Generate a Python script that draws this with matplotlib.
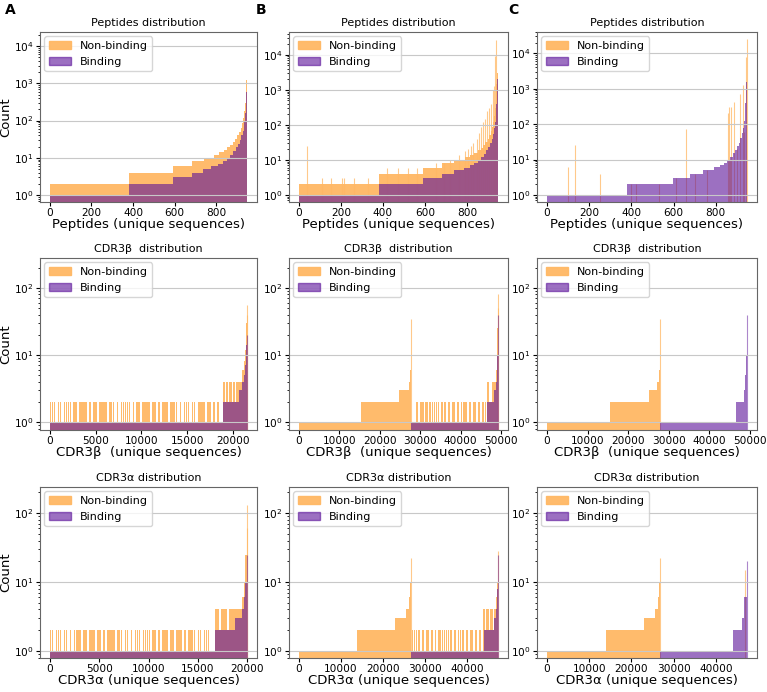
import numpy as np
import matplotlib.pyplot as plt
from matplotlib.patches import Patch
from matplotlib.ticker import MaxNLocator

ORANGE = '#ffb864'
PURPLE = '#5a1199'
A_OR = 0.95
A_PU = 0.6

# ---- data: count per unique sequence, sorted, as runs (start index, count) ----
# Peptides
pep_n = 948
pepA_bind = [(0, 1), (380, 2), (594, 3), (681, 4), (736, 5), (776, 6), (808, 7), (830, 8), (850, 10),
             (868, 12), (882, 15), (895, 19), (905, 24), (913, 30), (920, 40), (926, 52), (931, 70),
             (935, 100), (939, 160), (942, 300), (944, 600), (946, 1100), (947, 1800)]
pepA_non = [(0, 2), (380, 4), (594, 6), (681, 8), (740, 10), (790, 12), (815, 14), (835, 16), (852, 19),
            (866, 22), (878, 26), (890, 32), (900, 40), (910, 50), (918, 65), (925, 85), (930, 120),
            (935, 180), (939, 300), (942, 600), (944, 1200), (946, 2200), (947, 3500)]
pepB_bind = [(0, 1), (380, 2), (590, 3), (680, 4), (740, 5), (785, 6), (815, 7), (835, 8), (852, 10),
             (868, 12), (880, 15), (892, 19), (902, 24), (910, 30), (917, 40), (923, 55), (928, 80),
             (932, 120), (936, 200), (939, 400), (941, 800), (942, 2000)]
pepB_non = [(0, 2), (380, 4), (590, 6), (680, 8), (740, 10), (790, 12), (815, 14), (835, 16), (852, 19),
            (866, 22), (878, 26), (888, 32), (898, 40), (906, 50), (914, 65), (920, 85), (926, 120),
            (931, 180), (935, 300), (938, 700), (940, 1500), (942, 3000)]
pepB_spikes = [(40, 25), (110, 3), (150, 3), (205, 3), (215, 3), (262, 3), (330, 3), (420, 6), (470, 6),
               (520, 6), (560, 6), (650, 8), (690, 8), (720, 10), (760, 14), (790, 18), (805, 20),
               (820, 25), (830, 30), (845, 40), (855, 60), (865, 90), (875, 120), (885, 150), (895, 250),
               (905, 300), (915, 400), (925, 1000), (930, 1300), (935, 9000), (940, 27000)]
pepC_bind = [(0, 1), (380, 2), (595, 3), (680, 4), (740, 5), (790, 6), (820, 7), (840, 8), (855, 10),
             (868, 12), (880, 15), (892, 19), (902, 24), (910, 30), (917, 40), (923, 55), (928, 80),
             (933, 120), (937, 200), (940, 400), (943, 800), (945, 1500), (947, 2000)]
pepC_spikes = [(98, 6), (132, 25), (253, 4), (400, 2), (420, 2), (530, 2), (610, 3), (659, 75),
               (700, 4), (760, 5), (856, 200), (862, 300), (868, 10), (874, 300), (888, 420),
               (900, 20), (916, 720), (928, 1240), (935, 60), (942, 7900), (946, 26000)]

# CDR3 beta
b_nA = 21530
bA_bind = [(0, 1), (18910, 2), (20630, 3), (20990, 4), (21150, 5), (21280, 7), (21380, 10), (21450, 14)]
bA_bind_tip = [(21520, 20)]
bA_non = [(0, 1), (18910, 2), (20630, 4), (20990, 6), (21150, 8), (21280, 12), (21380, 18), (21450, 30)]
bA_non_tip = [(21500, 40), (21525, 55)]
bA_stripes = [(0, 18480, 2, "11101101111011011110101101111011101011111010110111101101011101111010111011011110110101"),
              (18910, 20630, 4, "1101101110110111")]
b_nBC = 49270
bB_bind = [(0, 0), (27795, 1), (46580, 2), (48355, 3), (48660, 4), (48925, 6), (49080, 10)]
bB_bind_tip = [(49260, 40)]
bB_non = [(0, 1), (15250, 2), (24850, 3), (27145, 4), (27530, 6), (27675, 12), (27795, 1),
          (46580, 2), (48355, 4), (48660, 6), (48925, 10), (49080, 25)]
bB_non_tip = [(27775, 35), (49180, 50), (49260, 80)]
bB_stripes = [(28935, 46285, 2, "11011101101110110101111011011101101011101101110110111"),
              (46580, 48255, 4, "110111")]
bC_bind = [(0, 0), (27925, 1), (46650, 2), (48540, 3), (48865, 5), (49080, 10)]
bC_bind_tip = [(49260, 40)]
bC_non = [(0, 1), (15430, 2), (25050, 3), (27185, 4), (27580, 6), (27745, 12), (27925, 0)]
bC_non_tip = [(27895, 35)]

# CDR3 alpha
a_nA = 20000
aA_bind = [(0, 1), (16730, 2), (18730, 3), (19500, 4), (19700, 6), (19820, 10)]
aA_bind_tip = [(19980, 25)]
aA_non = [(0, 1), (16730, 2), (18730, 4), (19500, 6), (19700, 10), (19820, 25)]
aA_non_tip = [(19960, 60), (19990, 130)]
aA_stripes = [(0, 16200, 2, "110111011010111101101110110101111011101101011101111011010111011011101011110110111"),
              (16730, 18800, 4, "1101110111")]
a_nBC = 47400
aB_bind = [(0, 0), (26700, 1), (44060, 2), (46430, 3), (46800, 4), (47050, 6), (47250, 8)]
aB_bind_tip = [(47390, 25)]
aB_non = [(0, 1), (13870, 2), (22980, 3), (25590, 4), (26200, 6), (26450, 10), (26700, 1),
          (44060, 2), (46430, 4), (46800, 6), (47050, 10)]
aB_non_tip = [(26680, 22), (47380, 28)]
aB_stripes = [(27000, 43500, 2, "1101110110111011010111101101110110101110110111011011"),
              (43800, 46400, 4, "11011101110")]
aC_bind = [(0, 0), (26700, 1), (44080, 2), (46210, 3), (46700, 6)]
aC_bind_tip = [(47390, 20)]
aC_non = [(0, 1), (13900, 2), (22990, 3), (25670, 4), (26300, 6), (26500, 10), (26700, 0)]
aC_non_tip = [(26680, 22), (46900, 15)]

pep_title, pep_xl = "Peptides distribution", "Peptides (unique sequences)"
b_title, b_xl = "CDR3β  distribution", "CDR3β  (unique sequences)"
a_title, a_xl = "CDR3α distribution", "CDR3α (unique sequences)"

panels = [
    dict(n=pep_n, non=pepA_non, bind=pepA_bind, title=pep_title, xl=pep_xl, ylim=(0.65, 2.4e4)),
    dict(n=pep_n, non=pepB_non, bind=pepB_bind, non_tip=pepB_spikes, title=pep_title, xl=pep_xl, ylim=(0.63, 4.5e4)),
    dict(n=pep_n, non=[(0, 0)], bind=pepC_bind, non_tip=pepC_spikes, title=pep_title, xl=pep_xl, ylim=(0.63, 4e4)),
    dict(n=b_nA, non=bA_non, bind=bA_bind, stripes=bA_stripes, non_tip=bA_non_tip, bind_tip=bA_bind_tip,
         title=b_title, xl=b_xl, ylim=(0.76, 280)),
    dict(n=b_nBC, non=bB_non, bind=bB_bind, stripes=bB_stripes, non_tip=bB_non_tip, bind_tip=bB_bind_tip,
         title=b_title, xl=b_xl, ylim=(0.76, 280)),
    dict(n=b_nBC, non=bC_non, bind=bC_bind, non_tip=bC_non_tip, bind_tip=bC_bind_tip,
         title=b_title, xl=b_xl, ylim=(0.76, 280)),
    dict(n=a_nA, non=aA_non, bind=aA_bind, stripes=aA_stripes, non_tip=aA_non_tip, bind_tip=aA_bind_tip,
         title=a_title, xl=a_xl, ylim=(0.79, 240)),
    dict(n=a_nBC, non=aB_non, bind=aB_bind, stripes=aB_stripes, non_tip=aB_non_tip, bind_tip=aB_bind_tip,
         title=a_title, xl=a_xl, ylim=(0.79, 240)),
    dict(n=a_nBC, non=aC_non, bind=aC_bind, non_tip=aC_non_tip, bind_tip=aC_bind_tip,
         title=a_title, xl=a_xl, ylim=(0.79, 240)),
]


def expand(runs, n):
    starts = [r[0] for r in runs] + [n]
    levels = [r[1] for r in runs]
    return np.repeat(np.array(levels, dtype=float), np.diff(starts))


def add_stripes(arr, stripes):
    for lo, hi, level, pat in stripes:
        w = (hi - lo) / len(pat)
        for i, ch in enumerate(pat):
            if ch == '1':
                a, b = int(lo + i * w), int(lo + (i + 0.8) * w)
                arr[a:b] = np.maximum(arr[a:b], level)
    return arr


def draw(ax, arr, color, alpha, z):
    idx = np.flatnonzero(np.diff(arr)) + 1
    edges = np.concatenate([[0], idx, [len(arr)]])
    vals = arr[edges[:-1]]
    vals = np.where(vals > 0, vals, 0.1)
    ax.stairs(vals, edges, fill=True, baseline=0.1, color=color, alpha=alpha, lw=0, zorder=z)


W, H = 767, 692
fig = plt.figure(figsize=(W / 100, H / 100), dpi=100)
cols = [(40, 257), (289, 508), (537, 757)]
rows = [(32, 202), (258, 430), (487, 658)]

for k, p in enumerate(panels):
    r, c = divmod(k, 3)
    n = p['n']
    l, rr = cols[c]
    t, b = rows[r]
    ax = fig.add_axes([l / W, 1 - b / H, (rr - l) / W, (b - t) / H])
    ax.set_yscale('log')
    orange = add_stripes(expand(p['non'], n), p.get('stripes', []))
    draw(ax, orange, ORANGE, A_OR, 1)
    tips = p.get('non_tip', [])
    if tips:
        ax.vlines([s[0] + 0.5 for s in tips], 0.1, [s[1] for s in tips], color=ORANGE, alpha=0.75, lw=0.8, zorder=1.05)
    draw(ax, expand(p['bind'], n), PURPLE, A_PU, 1.1)
    tips = p.get('bind_tip', [])
    if tips:
        ax.vlines([s[0] + 0.5 for s in tips], 0.1, [s[1] for s in tips], color=PURPLE, alpha=0.5, lw=0.8, zorder=1.15)
    ax.set_xlim(-0.05 * n, 1.05 * n)
    ax.set_ylim(*p['ylim'])
    ax.xaxis.set_major_locator(MaxNLocator(6, steps=[1, 2, 5, 10]))
    ax.yaxis.grid(True, which='major', color='#c8c8c8', lw=0.8)
    ax.set_title(p['title'], fontsize=8, pad=4)
    ax.set_xlabel(p['xl'], fontsize=9.5, labelpad=0)
    if c == 0:
        ax.set_ylabel("Count", fontsize=9.5, labelpad=1)
    ax.tick_params(labelsize=7.6, length=3, pad=1.5)
    ax.tick_params(axis='y', which='minor', length=1.5)
    for sp in ax.spines.values():
        sp.set_color('#666666')
    ax.legend(handles=[Patch(color=ORANGE, alpha=A_OR, label='Non-binding'),
                       Patch(color=PURPLE, alpha=A_PU, label='Binding')],
              loc='upper left', fontsize=8, labelspacing=0.55, borderpad=0.4, borderaxespad=0.4)

for x, lab in [(5, 'A'), (256, 'B'), (508, 'C')]:
    fig.text(x / W, 1 - 14 / H, lab, fontsize=10, fontweight='bold')

fig.savefig('out.png', dpi=100)
